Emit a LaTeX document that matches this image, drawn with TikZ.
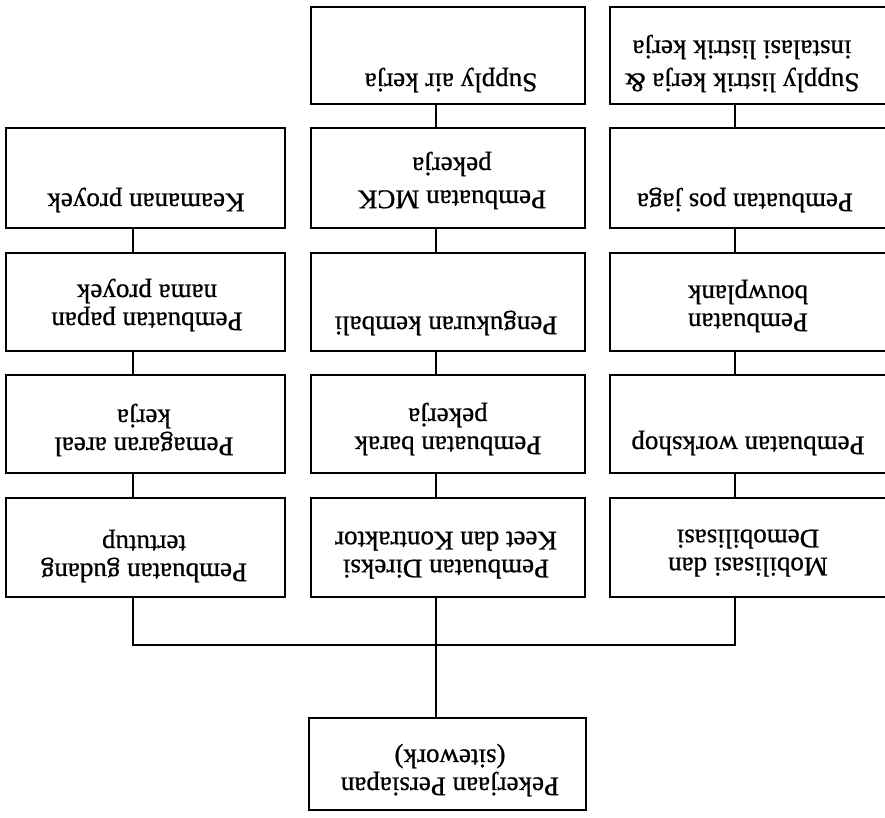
\documentclass[tikz,border=0pt]{standalone}
\usepackage{fontspec}
\setmainfont{Liberation Serif}[FakeBold=0.8]
\usetikzlibrary{calc}
\begin{document}
\begin{tikzpicture}[x=1pt, y=-1pt,
  box/.style 2 args={draw, line width=1.9pt, minimum width=#1, minimum height=#2, inner sep=0pt},
  txt/.style={rotate=180, align=center, inner sep=0pt, font=\fontsize{27}{28}\selectfont},
  txtw/.style={txt, font=\fontsize{27}{33}\selectfont},
  wire/.style={draw, line width=1.9pt}
]
\useasboundingbox (0,0) rectangle (885,817);

% x positions of the vertical connectors and the bus
\coordinate (xl) at (133,0);
\coordinate (xm) at (436,0);
\coordinate (xr) at (735,0);
\coordinate (bus) at (436,645);

% left column
\node[box={279pt}{100pt}] (L2) at (145.5,178) {};
\node[box={279pt}{98pt}]  (L3) at (145.5,302) {};
\node[box={279pt}{98pt}]  (L4) at (145.5,424) {};
\node[box={279pt}{99pt}]  (L5) at (145.5,547.5) {};
% middle column
\node[box={274pt}{97pt}]  (M1) at (448,55.5) {};
\node[box={274pt}{100pt}] (M2) at (448,178) {};
\node[box={274pt}{98pt}]  (M3) at (448,302) {};
\node[box={274pt}{98pt}]  (M4) at (448,424) {};
\node[box={274pt}{99pt}]  (M5) at (448,547.5) {};
% right column
\node[box={280pt}{97pt}]  (R1) at (750,55.5) {};
\node[box={280pt}{100pt}] (R2) at (750,178) {};
\node[box={280pt}{98pt}]  (R3) at (750,302) {};
\node[box={280pt}{98pt}]  (R4) at (750,424) {};
\node[box={280pt}{99pt}]  (R5) at (750,547.5) {};
% root
\node[box={277pt}{92pt}]  (B) at (447.5,764) {};

% labels
\node[txt]  (tM1) at (451,80)    {Supply air kerja};
\node[txtw] (tR1) at (742,63.5)  {Supply listrik kerja \&\\instalasi listrik kerja};
\node[txt]  (tL2) at (146,200)   {Keamanan proyek};
\node[txtw] (tM2) at (452,180.5) {Pembuatan MCK\\pekerja};
\node[txt]  (tR2) at (745,200)   {Pembuatan pos jaga};
\node[txt]  (tL3) at (147,305)   {Pembuatan papan\\nama proyek};
\node[txt]  (tM3) at (446,323)   {Pengukuran kembali};
\node[txt]  (tR3) at (748,306)   {Pembuatan\\bouwplank};
\node[txt]  (tL4) at (144,430)   {Pemagaran areal\\kerja};
\node[txt]  (tM4) at (448,429)   {Pembuatan barak\\pekerja};
\node[txt]  (tR4) at (748,443)   {Pembuatan workshop};
\node[txt]  (tL5) at (144,556)   {Pembuatan gudang\\tertutup};
\node[txt]  (tM5) at (446,555)   {Pembuatan Direksi\\Keet dan Kontraktor};
\node[txt]  (tR5) at (748,553)   {Mobilisasi dan\\Demobilisasi};
\node[txt]  (tB)  at (450,770)   {Pekerjaan Persiapan\\(sitework)};

% connectors inside each column
\path[wire] (L2.south -| xl) -- (L3.north -| xl);
\path[wire] (L3.south -| xl) -- (L4.north -| xl);
\path[wire] (L4.south -| xl) -- (L5.north -| xl);
\path[wire] (M1.south -| xm) -- (M2.north -| xm);
\path[wire] (M2.south -| xm) -- (M3.north -| xm);
\path[wire] (M3.south -| xm) -- (M4.north -| xm);
\path[wire] (M4.south -| xm) -- (M5.north -| xm);
\path[wire] (R1.south -| xr) -- (R2.north -| xr);
\path[wire] (R2.south -| xr) -- (R3.north -| xr);
\path[wire] (R3.south -| xr) -- (R4.north -| xr);
\path[wire] (R4.south -| xr) -- (R5.north -| xr);

% bus joining the three columns to the root
\path[wire] (L5.south -| xl) -- (xl |- bus) -- (xr |- bus) -- (R5.south -| xr);
\path[wire] (M5.south -| xm) -- (B.north -| xm);
\end{tikzpicture}
\end{document}
